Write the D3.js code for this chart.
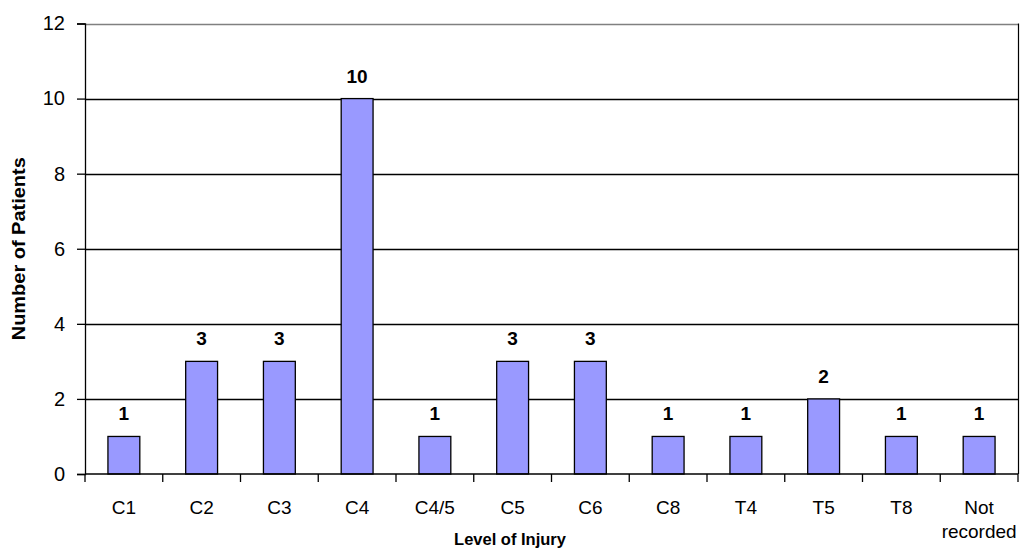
<!DOCTYPE html>
<html>
<head>
<meta charset="utf-8">
<script src="https://cdn.jsdelivr.net/npm/d3@7"></script>
<style>
  html, body { margin: 0; padding: 0; background: #fff; }
  svg { display: block; }
  text { font-family: "Liberation Sans", Arial, sans-serif; }
</style>
</head>
<body>
<svg id="chart" width="1023" height="548"></svg>
<script>
// Patients by level of spinal injury
const categories = ["C1", "C2", "C3", "C4", "C4/5", "C5", "C6", "C8", "T4", "T5", "T8", "Not recorded"];
const patients = [1, 3, 3, 10, 1, 3, 3, 1, 1, 2, 1, 1];
const yTicks = [0, 2, 4, 6, 8, 10, 12];

const svg = d3.select("#chart");
const margin = { left: 85, right: 5, top: 23.5, bottom: 74 };
const W = 1023, H = 548;

const x = d3.scaleBand()
  .domain(categories)
  .range([margin.left, W - margin.right])
  .paddingInner(0.59)
  .paddingOuter(0.295);

const y = d3.scaleLinear()
  .domain([0, 12])
  .range([H - margin.bottom, margin.top]);

// Horizontal gridlines (top one is the grey plot-area border)
svg.append("g")
  .selectAll("line")
  .data(yTicks.filter(d => d > 0))
  .join("line")
  .attr("x1", margin.left)
  .attr("x2", W - margin.right)
  .attr("y1", d => Math.round(y(d)) + 0.5)
  .attr("y2", d => Math.round(y(d)) + 0.5)
  .attr("stroke", d => d === 12 ? "#808080" : "#000")
  .attr("stroke-width", 1.3);

// Right border of plot area
svg.append("line")
  .attr("x1", W - margin.right + 0.5).attr("x2", W - margin.right + 0.5)
  .attr("y1", y(12)).attr("y2", y(0))
  .attr("stroke", "#000").attr("stroke-width", 1.2);

const rows = categories.map((c, i) => ({ c, v: patients[i] }));

// Bars
svg.append("g")
  .selectAll("rect")
  .data(rows)
  .join("rect")
  .attr("x", d => x(d.c))
  .attr("width", x.bandwidth())
  .attr("y", d => y(d.v))
  .attr("height", d => y(0) - y(d.v))
  .attr("fill", "#9999FF")
  .attr("stroke", "#000")
  .attr("stroke-width", 1.3);

// Value labels above bars
svg.append("g")
  .selectAll("text")
  .data(rows)
  .join("text")
  .attr("x", d => x(d.c) + x.bandwidth() / 2)
  .attr("y", d => y(d.v) - 16)
  .attr("text-anchor", "middle")
  .attr("font-size", 19)
  .attr("font-weight", "bold")
  .text(d => d.v);

// Y axis
const yAxis = svg.append("g")
  .attr("transform", `translate(${margin.left},0)`)
  .call(d3.axisLeft(y).tickValues(yTicks).tickSize(8).tickPadding(12));
yAxis.select(".domain").attr("stroke", "#000").attr("stroke-width", 1.3);
yAxis.selectAll(".tick line").attr("stroke", "#000").attr("stroke-width", 1.3);
yAxis.selectAll(".tick text")
  .attr("font-size", 20)
  .attr("font-family", "Liberation Sans, Arial, sans-serif")
  .attr("fill", "#000");

// X axis: baseline, tick marks on category boundaries, labels centred on bars
const xAxisG = svg.append("g")
  .attr("transform", `translate(0,${y(0)})`);
xAxisG.append("line")
  .attr("x1", margin.left).attr("x2", W - margin.right)
  .attr("stroke", "#000").attr("stroke-width", 1.3);

const boundaryX = i => margin.left + i * (W - margin.left - margin.right) / categories.length;
xAxisG.selectAll("line.tick")
  .data(d3.range(categories.length + 1))
  .join("line")
  .attr("class", "tick")
  .attr("x1", boundaryX)
  .attr("x2", boundaryX)
  .attr("y1", 0).attr("y2", 8)
  .attr("stroke", "#000").attr("stroke-width", 1.3);

const xLabels = xAxisG.selectAll("text.cat")
  .data(categories)
  .join("text")
  .attr("class", "cat")
  .attr("x", d => x(d) + x.bandwidth() / 2)
  .attr("y", 40)
  .attr("text-anchor", "middle")
  .attr("font-size", 19);
xLabels.each(function(d) {
  const t = d3.select(this);
  d.split(" ").forEach((w, i) => {
    t.append("tspan")
      .attr("x", x(d) + x.bandwidth() / 2)
      .attr("dy", i === 0 ? 0 : 24)
      .text(w);
  });
});

// Axis titles
svg.append("text")
  .attr("x", 510)
  .attr("y", 545)
  .attr("text-anchor", "middle")
  .attr("font-size", 16.5)
  .attr("font-weight", "bold")
  .text("Level of Injury");

svg.append("text")
  .attr("transform", `translate(25,${(y(0) + y(12)) / 2}) rotate(-90) scale(1.11,1)`)
  .attr("text-anchor", "middle")
  .attr("font-size", 18)
  .attr("font-weight", "bold")
  .text("Number of Patients");
</script>
</body>
</html>
